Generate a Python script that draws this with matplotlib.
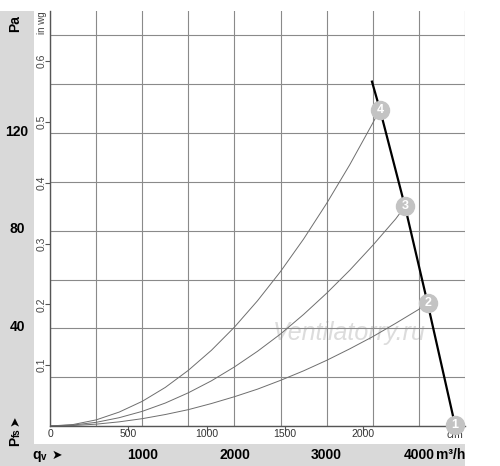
import matplotlib
matplotlib.use("Agg")
import matplotlib.pyplot as plt
from matplotlib.patches import Rectangle
from matplotlib.transforms import blended_transform_factory as blend

plt.rcParams["font.family"] = ["Liberation Sans", "DejaVu Sans"]

# ---------------- data ----------------
# system curves (flow m3/h, pressure Pa)
q_sys = [0, 250, 500, 750, 1000, 1250, 1500, 1750, 2000, 2250, 2500,
         2750, 3000, 3250, 3500, 3750, 4000]
p_sys4 = [0, 0.6, 2.5, 5.7, 10.1, 15.8, 22.8, 31.0, 40.5, 51.3, 63.3,
          76.6, 91.2, 107.0, 124.1]
p_sys3 = [0, 0.4, 1.5, 3.4, 6.0, 9.4, 13.6, 18.5, 24.2, 30.6, 37.7,
          45.7, 54.4, 63.8, 74.0, 84.9]
p_sys2 = [0, 0.2, 0.75, 1.7, 3.0, 4.7, 6.7, 9.2, 12.0, 15.1, 18.7,
          22.6, 26.9, 31.6, 36.6, 42.1, 47.8]
end4 = (3578, 129.6)
end3 = (3849, 90.0)
end2 = (4095, 50.2)

# fan curve
q_fan = [3488, 3578, 3849, 4095, 4392]
p_fan = [141.5, 129.6, 90.0, 50.2, 0.4]

# operating points
op_labels = ["1", "2", "3", "4"]
op_q = [4392, 4095, 3849, 3578]
op_p = [0.4, 50.2, 90.0, 129.6]

# axes ticks
x_grid = [0, 500, 1000, 1500, 2000, 2500, 3000, 3500, 4000, 4500]
y_grid = [0, 20, 40, 60, 80, 100, 120, 140, 160]
pa_labels = [40, 80, 120]
inwg_labels = [0.1, 0.2, 0.3, 0.4, 0.5, 0.6]
cfm_labels = [0, 500, 1000, 1500, 2000]
m3h_labels = [1000, 2000, 3000]

PA_PER_INWG = 249.089
M3H_PER_CFM = 1.699

# ---------------- figure ----------------
W, H = 500, 466
fig = plt.figure(figsize=(W / 100, H / 100), dpi=100)
fig.patch.set_facecolor("white")

def fx(x):
    return x / W

def fy(y):
    return 1 - y / H

gray = "#d9d9d9"
fig.patches.append(Rectangle((0, 0), fx(34), fy(11), transform=fig.transFigure,
                             facecolor=gray, edgecolor="none", zorder=-5))
fig.patches.append(Rectangle((0, 0), fx(465), fy(444), transform=fig.transFigure,
                             facecolor=gray, edgecolor="none", zorder=-5))

ax = fig.add_axes([fx(50), fy(426), fx(465) - fx(50), fy(11) - fy(426)])
ax.set_xlim(0, 4500)
ax.set_ylim(0, 170)
ax.set_facecolor("white")
ax.set_xticks(x_grid)
ax.set_yticks(y_grid)
ax.tick_params(which="major", length=0, labelbottom=False, labelleft=False)
ax.grid(True, which="major", color="#8a8a8a", linewidth=0.8)
for s in ["top", "right"]:
    ax.spines[s].set_visible(False)
for s in ["left", "bottom"]:
    ax.spines[s].set_color("#555555")
    ax.spines[s].set_linewidth(1.0)

# minor ticks for cfm and in wg
ax.set_xticks([c * M3H_PER_CFM for c in cfm_labels], minor=True)
ax.set_yticks([v * PA_PER_INWG for v in inwg_labels], minor=True)
ax.tick_params(which="minor", length=3.5, width=0.8, color="#555555",
               direction="out", labelbottom=False, labelleft=False)

# watermark
ax.text(3240, 38, "Ventilatorry.ru", fontsize=18, style="italic",
        color="#dcdcdc", ha="center", va="center", zorder=1)

# system curves
curve_col = "#6e6e6e"
for p, end in [(p_sys4, end4), (p_sys3, end3), (p_sys2, end2)]:
    qs = q_sys[:len(p)] + [end[0]]
    ps = p + [end[1]]
    ax.plot(qs, ps, color=curve_col, linewidth=0.7, zorder=2)

# fan curve
ax.plot(q_fan, p_fan, color="black", linewidth=1.6, zorder=3,
        solid_capstyle="butt")

# operating point markers
for lab, q, p in zip(op_labels, op_q, op_p):
    ax.plot([q], [p], "o", markersize=13, color="#c3c3c3",
            markeredgecolor="#c3c3c3", zorder=5, clip_on=False)
    ax.text(q, p, lab, color="white", fontsize=9, fontweight="bold",
            ha="center", va="center", zorder=6, clip_on=False)

# ---------------- labels ----------------
tr_fy = blend(fig.transFigure, ax.transData)
tr_xf = blend(ax.transData, fig.transFigure)

fig.text(fx(15), fy(24), "Pa", rotation=90, fontsize=10, fontweight="bold",
         ha="center", va="center")
for v in pa_labels:
    fig.text(fx(17), v + 0.6, str(v), transform=tr_fy, fontsize=10,
             fontweight="bold", ha="center", va="center")

fig.text(fx(42), fy(23), "in wg", rotation=90, fontsize=7, color="#444444",
         ha="center", va="center")
for v in inwg_labels:
    ax.text(fx(42), v * PA_PER_INWG, f"{v:.1f}", transform=tr_fy, rotation=90,
            fontsize=7.5, color="#444444", ha="center", va="center")

for c in cfm_labels:
    ax.text(c * M3H_PER_CFM, fy(434), str(c), transform=tr_xf, fontsize=7.5,
            color="#333333", ha="center", va="center")
ax.text(4392, fy(435), "cfm", transform=tr_xf, fontsize=7.5, color="#333333",
        ha="center", va="center", zorder=1)

for m in m3h_labels:
    fig.text(m, fy(455), str(m), transform=tr_xf, fontsize=10,
             fontweight="bold", ha="center", va="center")
fig.text(4000, fy(455), "4000", transform=tr_xf, fontsize=10,
         fontweight="bold", ha="center", va="center")
fig.text(4185, fy(455), "m³/h", transform=tr_xf, fontsize=10,
         fontweight="bold", ha="left", va="center")

# q_v arrow label
fig.text(fx(36.5), fy(455), "q", fontsize=10, fontweight="bold",
         ha="center", va="center")
fig.text(fx(43.5), fy(456.5), "v", fontsize=7, fontweight="bold",
         ha="center", va="center")
fig.text(fx(57), fy(455), "➤", fontsize=9, ha="center", va="center",
         family="DejaVu Sans")

# P_fs arrow label (rotated)
fig.text(fx(15), fy(441.5), "P", rotation=90, fontsize=10, fontweight="bold",
         ha="center", va="center")
fig.text(fx(16.5), fy(432.5), "fs", rotation=90, fontsize=7, fontweight="bold",
         ha="center", va="center")
fig.text(fx(15), fy(421), "➤", rotation=90, fontsize=9, ha="center",
         va="center", family="DejaVu Sans")

fig.savefig("out.png", dpi=100, facecolor="white")
